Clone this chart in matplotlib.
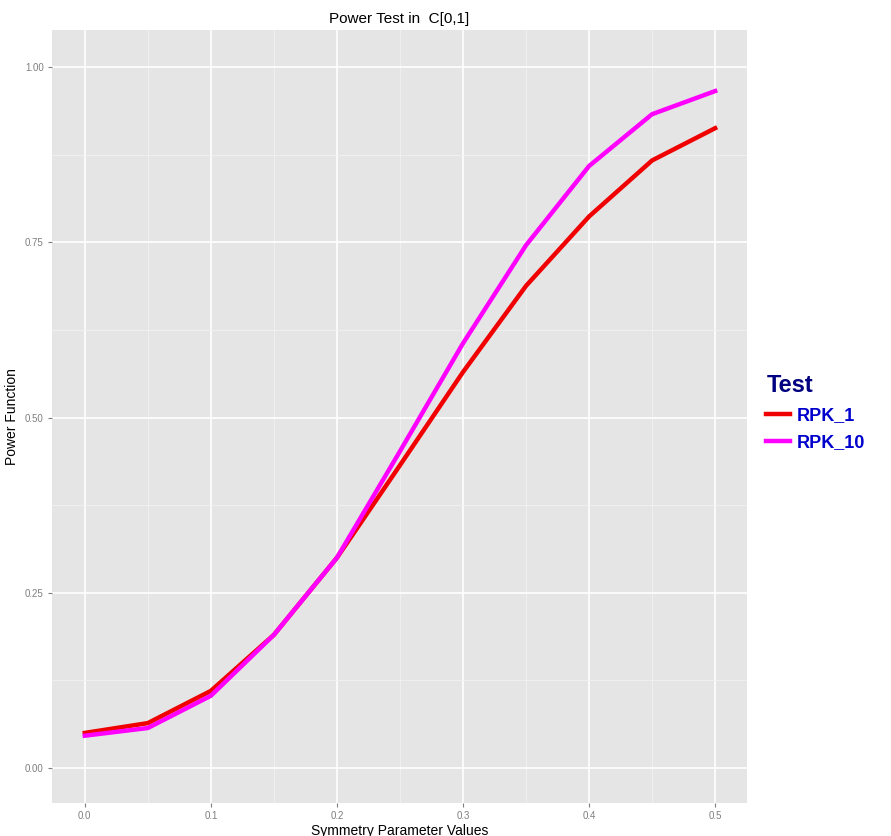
import numpy as np
import matplotlib.pyplot as plt
from matplotlib.ticker import MultipleLocator

plt.rcParams['font.family'] = ['Liberation Sans Narrow', 'Liberation Sans', 'DejaVu Sans']

# Data
sym_values = [0.0, 0.05, 0.1, 0.15, 0.2, 0.25, 0.3, 0.35, 0.4, 0.45, 0.5]
rpk_1 = [0.050, 0.064, 0.110, 0.190, 0.300, 0.432, 0.565, 0.688, 0.787, 0.867, 0.913]
rpk_10 = [0.046, 0.057, 0.103, 0.190, 0.300, 0.452, 0.606, 0.746, 0.859, 0.933, 0.966]
x_ticks = [0.0, 0.1, 0.2, 0.3, 0.4, 0.5]
y_ticks = [0.0, 0.25, 0.5, 0.75, 1.0]

fig = plt.figure(figsize=(8.91, 8.36), dpi=100)
ax = fig.add_axes([0.0584, 0.0395, 0.7796, 0.9245])
ax.set_facecolor('#E5E5E5')
for s in ax.spines.values():
    s.set_visible(False)

ax.set_xlim(-0.026, 0.525)
ax.set_ylim(-0.05, 1.053)
ax.set_xticks(x_ticks)
ax.set_xticklabels(['0.0', '0.1', '0.2', '0.3', '0.4', '0.5'])
ax.set_yticks(y_ticks)
ax.set_yticklabels(['0.00', '0.25', '0.50', '0.75', '1.00'])
ax.xaxis.set_minor_locator(MultipleLocator(0.05))
ax.yaxis.set_minor_locator(MultipleLocator(0.125))
ax.grid(which='major', color='white', linewidth=1.2)
ax.grid(which='minor', color='#F2F2F2', linewidth=0.6)
ax.set_axisbelow(True)
ax.tick_params(which='major', colors='#7F7F7F', labelsize=7, length=3, pad=3)
ax.tick_params(which='minor', length=0)

ax.plot(sym_values, rpk_1, color='#F00000', linewidth=3.2, label='RPK_1',
        solid_joinstyle='miter')
ax.plot(sym_values, rpk_10, color='#FF00FF', linewidth=3.2, label='RPK_10',
        solid_joinstyle='miter')

ax.set_title('Power Test in  C[0,1]', fontsize=11, pad=5)
ax.set_xlabel('Symmetry Parameter Values', fontsize=10, labelpad=2)
ax.set_ylabel('Power Function', fontsize=10, labelpad=4)

leg = ax.legend(loc='center left', bbox_to_anchor=(1.018, 0.505), frameon=False,
                title='Test', handlelength=1.3, handletextpad=0.4,
                labelspacing=0.55, borderaxespad=0.0,
                prop={'family': ['Liberation Sans', 'DejaVu Sans'], 'weight': 'bold', 'size': 13})
leg.get_title().set_fontproperties({'family': ['Liberation Sans', 'DejaVu Sans'],
                                    'weight': 'bold', 'size': 17})
leg.get_title().set_color('#000080')
leg._legend_box.align = 'left'
for t in leg.get_texts():
    t.set_color('#0000CD')

fig.savefig('out.png', dpi=100)
